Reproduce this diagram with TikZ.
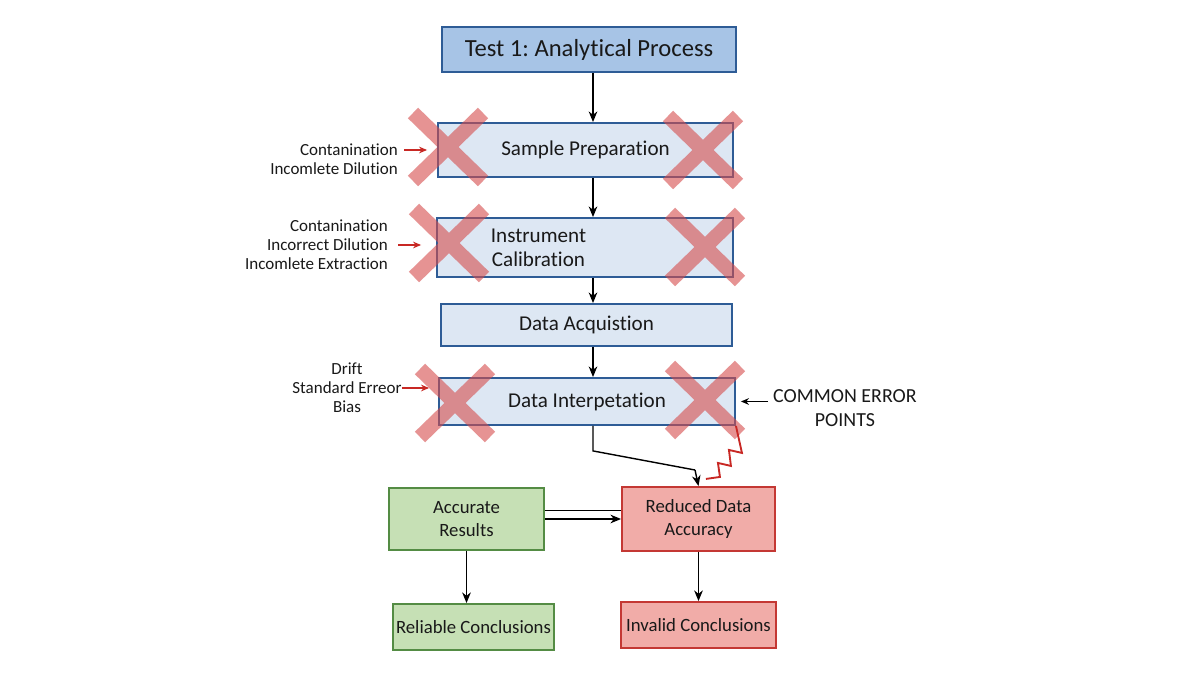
\documentclass[tikz,border=0pt]{standalone}
\usepackage{fontspec}
\setmainfont{Carlito}[Ligatures=NoCommon]
\usetikzlibrary{arrows.meta, positioning}
\frenchspacing

\definecolor{headfill}{RGB}{167,196,230}
\definecolor{procfill}{RGB}{221,231,243}
\definecolor{procline}{RGB}{46,92,150}
\definecolor{okfill}{RGB}{198,224,181}
\definecolor{okline}{RGB}{84,140,68}
\definecolor{badfill}{RGB}{241,172,168}
\definecolor{badline}{RGB}{196,56,52}
\definecolor{crossred}{RGB}{214,76,76}
\definecolor{zigred}{RGB}{200,40,36}
\definecolor{inktext}{RGB}{25,25,25}

\tikzset{
  proc/.style={draw=procline, fill=procfill, line width=1.6pt, inner sep=0pt,
               text=inktext, font=\fontsize{18}{19}\selectfont},
  okbox/.style={draw=okline, fill=okfill, line width=1.6pt, inner sep=0pt, align=center,
                text=inktext, font=\fontsize{16}{19}\selectfont},
  badbox/.style={draw=badline, fill=badfill, line width=1.6pt, inner sep=0pt, align=center,
                 text=inktext, font=\fontsize{16}{19}\selectfont},
  note/.style={inner sep=0pt, text=inktext, font=\fontsize{14.5}{16.3}\selectfont},
  flow/.style={->, line width=1.2pt},
  errarrow/.style={-{Stealth[length=2.4mm,width=2mm]}, zigred, line width=1.1pt},
  errx/.pic={\draw[crossred, opacity=0.6, line width=12.5pt]
                (-35,-34) -- (35,34) (-35,34) -- (35,-34);}
}

\begin{document}
\begin{tikzpicture}[x=0.03cm, y=-0.03cm, >={Stealth[length=3.2mm,width=2.6mm]}]
  \useasboundingbox[fill=white] (0,0) rectangle (1200,685);
  \coordinate (spine) at (593,0);

  % main chain
  \node[proc, fill=headfill, minimum width=8.82cm, minimum height=1.35cm,
        font=\fontsize{21}{24}\selectfont] (title) at (589,49.5) {Test 1: Analytical Process};
  \node[proc, minimum width=8.85cm, minimum height=1.62cm] (prep) at (585.5,150) {Sample Preparation};
  \node[proc, minimum width=8.88cm, minimum height=1.77cm] (calib) at (585,247.5) {};
  \node[inner sep=0pt, align=center, text=inktext, font=\fontsize{18}{20.5}\selectfont]
        (calibtext) at (538.5,248) {Instrument\\Calibration};
  \node[proc, minimum width=8.73cm, minimum height=1.26cm] (acq) at (586.5,325) {Data Acquistion};
  \node[proc, minimum width=8.88cm, minimum height=1.41cm] (interp) at (587,401.5) {Data Interpetation};

  \draw[flow] (title.south -| spine) -- (prep.north -| spine);
  \draw[flow] (prep.south -| spine) -- (calib.north -| spine);
  \draw[flow] (calib.south -| spine) -- (acq.north -| spine);
  \draw[flow] (acq.south -| spine) -- (interp.north -| spine);

  % outcomes
  \node[okbox, minimum width=4.65cm, minimum height=1.86cm] (acc) at (466.5,519) {Accurate\\Results};
  \node[badbox, minimum width=4.59cm, minimum height=1.92cm] (red) at (698.5,519) {Reduced Data\\Accuracy};
  \node[okbox, minimum width=4.83cm, minimum height=1.38cm] (rel) at (473.5,627) {Reliable Conclusions};
  \node[badbox, minimum width=4.65cm, minimum height=1.38cm] (inv) at (698.5,625) {Invalid Conclusions};

  \coordinate (bend) at (695,470);
  \draw[line width=1.2pt] (interp.south -| spine) -- ++(0,25) -- (bend);
  \draw[flow] (bend) -- (red.north);
  \draw[line width=1.2pt] ([yshift=2.6mm]acc.east) -- ([yshift=2.6mm]acc.east -| red.west);
  \draw[flow] (acc.east) -- (red.west);
  \draw[flow] (acc.south) -- (acc.south |- rel.north);
  \draw[flow] (red.south) -- (inv.north);

  % crossed-out steps
  \pic at (448,147) {errx};
  \pic at (703,150) {errx};
  \pic at (449,243) {errx};
  \pic at (705,247) {errx};
  \pic at (455,403) {errx};
  \pic at (705,400) {errx};

  % error notes
  \node[note, anchor=east, align=right] (prepnote) at (398,159) {Contanination\\Incomlete Dilution};
  \node[note, anchor=east, align=right] (calibnote) at (388,245) {Contanination\\Incorrect Dilution\\Incomlete Extraction};
  \node[note, align=center] (interpnote) at (347,388) {Drift\\Standard Erreor\\Bias};
  \node[note, anchor=west, align=center, font=\fontsize{17}{20.5}\selectfont]
        (common) at (773,408) {COMMON ERROR\\POINTS};

  \draw[errarrow] ([xshift=1.8mm]prepnote.east |- prep) -- ([xshift=-3mm]prep.west);
  \draw[errarrow] ([xshift=3mm]calibnote.east) -- ([xshift=-4.5mm]calibnote.east -| calib.west);
  \draw[errarrow] (interpnote.east) -- ([xshift=-2.7mm]interpnote.east -| interp.west);
  \draw[line width=1.1pt, -{Stealth[length=2.4mm,width=2mm]}]
        ([xshift=-1.5mm]common.west |- interp) -- ([xshift=1.5mm]interp.east);

  \draw[zigred, line width=1.6pt, line join=miter]
        (interp.south east) -- ++(6,27) -- ++(-13,-3) -- ++(2,16) -- ++(-13,-3)
        -- ++(2,14) -- ++(-14,2);
\end{tikzpicture}
\end{document}
